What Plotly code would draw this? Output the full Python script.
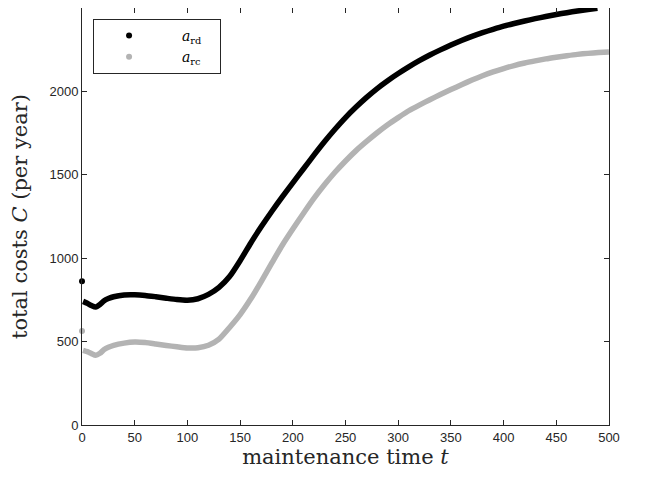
import plotly.graph_objects as go

# maintenance time t and total costs C (per year)
t_rd0 = [0]
c_rd0 = [862]
t_rd = [1, 5, 9, 13, 17, 21, 25, 30, 40, 50, 60, 70, 80, 90, 100, 110,
        120, 130, 140, 150, 160, 170, 180, 190, 200, 210, 220, 230, 240, 250,
        260, 270, 280, 290, 300, 310, 320, 330, 340, 350, 360, 370, 380, 390,
        400, 410, 420, 430, 440, 450, 460, 470, 480, 489]
c_rd = [741, 730, 716, 707, 722, 745, 758, 769, 780, 781, 777, 769, 760, 752, 748, 757,
        783, 825, 890, 985, 1090, 1188, 1280, 1368, 1452, 1535, 1618, 1698, 1773, 1843,
        1906, 1964, 2017, 2064, 2107, 2147, 2184, 2218, 2249, 2278, 2305, 2330, 2352, 2372,
        2391, 2407, 2422, 2436, 2449, 2461, 2472, 2482, 2491, 2499]

t_rc0 = [0]
c_rc0 = [564]
t_rc = [1, 5, 9, 13, 17, 21, 25, 30, 40, 50, 60, 70, 80, 90, 100, 110,
        120, 130, 140, 150, 160, 170, 180, 190, 200, 210, 220, 230, 240, 250,
        260, 270, 280, 290, 300, 310, 320, 330, 340, 350, 360, 370, 380, 390,
        400, 410, 420, 430, 440, 450, 460, 470, 480, 490, 500]
c_rc = [448, 440, 428, 418, 430, 452, 466, 478, 491, 497, 494, 486, 477, 469, 462, 463,
        478, 515, 585, 662, 755, 860, 970, 1078, 1175, 1268, 1358, 1440, 1515, 1583,
        1645, 1700, 1752, 1800, 1843, 1884, 1918, 1950, 1981, 2011, 2040, 2068, 2094, 2117,
        2137, 2155, 2170, 2183, 2195, 2205, 2214, 2222, 2228, 2233, 2237]

x_ticks = [0, 50, 100, 150, 200, 250, 300, 350, 400, 450, 500]
y_ticks = [0, 500, 1000, 1500, 2000, 2500]

BLACK = "#000000"
GRAY = "#b3b3b3"
AX = "#262626"
SERIF = "DejaVu Serif, Liberation Serif, serif"
NB = "\u00a0"

fig = go.Figure()
fig.add_trace(go.Scatter(x=t_rc, y=c_rc, mode="lines", showlegend=False,
                         line=dict(color=GRAY, width=5.5, shape="spline", smoothing=0.6)))
fig.add_trace(go.Scatter(x=t_rd, y=c_rd, mode="lines", showlegend=False,
                         line=dict(color=BLACK, width=5.5, shape="spline", smoothing=0.6)))
fig.add_trace(go.Scatter(x=t_rd0, y=c_rd0, mode="markers",
                         name=NB * 4 + "<i>a</i><sub>rd</sub>" + NB * 3,
                         marker=dict(color=BLACK, size=6), cliponaxis=False))
fig.add_trace(go.Scatter(x=t_rc0, y=c_rc0, mode="markers",
                         name=NB * 4 + "<i>a</i><sub>rc</sub>" + NB * 3,
                         marker=dict(color=GRAY, size=6), cliponaxis=False))

axis_common = dict(showline=True, linecolor=AX, linewidth=1, mirror="ticks",
                   ticks="inside", ticklen=5, tickcolor=AX, tickwidth=1,
                   showgrid=False, zeroline=False, automargin=False,
                   tickfont=dict(family="Liberation Sans, Arial, sans-serif", size=13, color=AX))

fig.update_xaxes(range=[0, 500], tickvals=x_ticks, ticktext=[str(v) for v in x_ticks],
                 title=dict(text="maintenance time <i>t</i>", standoff=5,
                            font=dict(family=SERIF, size=21, color=AX)),
                 **axis_common)
fig.update_yaxes(range=[0, 2500], tickvals=y_ticks, ticktext=[str(v) for v in y_ticks],
                 title=dict(text="total costs <i>C</i> (per year)", standoff=17,
                            font=dict(family=SERIF, size=21, color=AX)),
                 **axis_common)

fig.update_layout(
    width=642, height=471,
    margin=dict(l=74, r=41, t=0, b=54),
    plot_bgcolor="white", paper_bgcolor="white",
    legend=dict(x=0.021, y=0.974, xanchor="left", yanchor="top",
                bordercolor=AX, borderwidth=1, bgcolor="white",
                font=dict(family=SERIF, size=14, color=BLACK),
                itemwidth=60, tracegroupgap=0),
)

fig.write_html("out.html")
